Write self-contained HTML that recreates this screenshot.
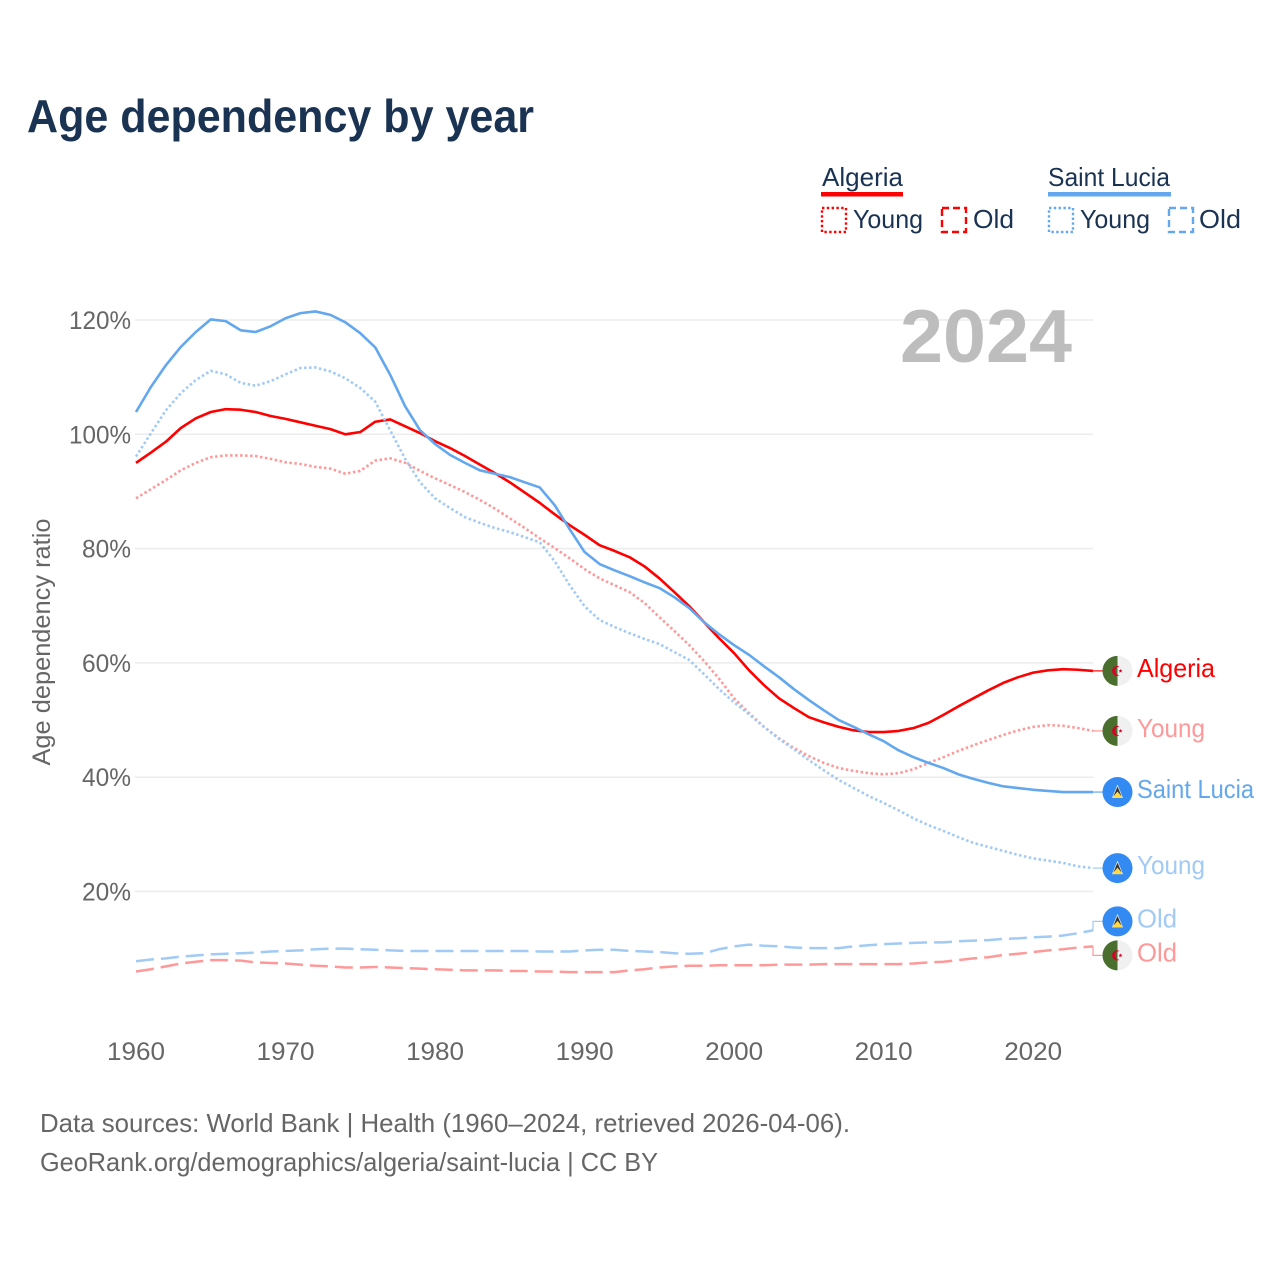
<!DOCTYPE html>
<html lang="en">
<head>
<meta charset="utf-8">
<title>Age dependency by year</title>
<style>
html,body{margin:0;padding:0;background:#fff;}
svg{display:block;font-family:"Liberation Sans",sans-serif;}
</style>
</head>
<body>
<svg id="chart" xmlns="http://www.w3.org/2000/svg" width="1280" height="1280" viewBox="0 0 1280 1280">
  <defs>
    <symbol id="flag-dz" viewBox="-15 -15 30 30" overflow="visible">
      <circle r="15" fill="#f0f0f0"/>
      <path d="M0,-15 A15,15 0 0 0 0,15 Z" fill="#496e2d"/>
      <path d="M2,-4.4 A5,5 0 1 0 2,4.4 A4,4 0 1 1 2,-4.4 Z" fill="#d80027"/>
      <polygon points="3,-2 3.6,-0.6 5,-0.6 3.9,0.4 4.3,1.9 3,1 1.7,1.9 2.1,0.4 1,-0.6 2.4,-0.6" fill="#d80027"/>
    </symbol>
    <symbol id="flag-lc" viewBox="-15 -15 30 30" overflow="visible">
      <circle r="15" fill="#338af3"/>
      <polygon points="0,-7.5 -5.5,6 5.5,6" fill="#f0f0f0"/>
      <polygon points="0,-5.5 -4,4 4,4" fill="#333"/>
      <polygon points="0,-0.5 -5.5,6 5.5,6" fill="#ffda44"/>
    </symbol>
  </defs>

  <text x="27" y="132" font-size="46" font-weight="700" fill="#1a3353" textLength="507" lengthAdjust="spacingAndGlyphs">Age dependency by year</text>

  <g>
    <text x="822" y="186" font-size="26" fill="#1a3353" textLength="81" lengthAdjust="spacingAndGlyphs">Algeria</text>
    <rect x="821" y="192" width="82" height="4.5" fill="#ff0000"/>
    <rect x="822" y="208" width="24" height="24" fill="none" stroke="#ff0000" stroke-width="2.4" stroke-dasharray="2.4 2.4"/>
    <text x="853" y="228" font-size="26" fill="#1a3353" textLength="70" lengthAdjust="spacingAndGlyphs">Young</text>
    <rect x="942" y="208" width="24" height="24" fill="none" stroke="#ff0000" stroke-width="2.4" stroke-dasharray="7 4"/>
    <text x="973" y="228" font-size="26" fill="#1a3353" textLength="41" lengthAdjust="spacingAndGlyphs">Old</text>

    <text x="1048" y="186" font-size="26" fill="#1a3353" textLength="122" lengthAdjust="spacingAndGlyphs">Saint Lucia</text>
    <rect x="1048" y="192" width="123" height="4.5" fill="#63a7ef"/>
    <rect x="1049" y="208" width="24" height="24" fill="none" stroke="#63a7ef" stroke-width="2.4" stroke-dasharray="2.4 2.4"/>
    <text x="1080" y="228" font-size="26" fill="#1a3353" textLength="70" lengthAdjust="spacingAndGlyphs">Young</text>
    <rect x="1169" y="208" width="24" height="24" fill="none" stroke="#63a7ef" stroke-width="2.4" stroke-dasharray="7 4"/>
    <text x="1199" y="228" font-size="26" fill="#1a3353" textLength="42" lengthAdjust="spacingAndGlyphs">Old</text>
  </g>

  <g id="grid"></g>
  <g id="yticks"></g>
  <g id="xticks"></g>

  <text transform="translate(50,642) rotate(-90)" text-anchor="middle" font-size="25" fill="#666" textLength="247" lengthAdjust="spacingAndGlyphs">Age dependency ratio</text>

  <text x="900" y="362" font-size="75" font-weight="700" fill="#bdbdbd" textLength="172" lengthAdjust="spacingAndGlyphs">2024</text>

  <g id="series"></g>
  <g id="endlabels"></g>

  <text x="40" y="1132" font-size="26" fill="#666" textLength="810" lengthAdjust="spacingAndGlyphs">Data sources: World Bank | Health (1960–2024, retrieved 2026-04-06).</text>
  <text x="40" y="1171" font-size="26" fill="#666" textLength="618" lengthAdjust="spacingAndGlyphs">GeoRank.org/demographics/algeria/saint-lucia | CC BY</text>
</svg>

<script>
const firstYear = 1960;
const lastYear = 2024;
const xTickValues = [1960, 1970, 1980, 1990, 2000, 2010, 2020];
const yTickValues = [20, 40, 60, 80, 100, 120];

const algeriaTotal = [
  95.0,96.8,98.7,101.1,102.8,103.9,104.4,104.3,103.9,103.2,
  102.7,102.1,101.5,100.9,100.0,100.4,102.2,102.6,101.4,100.2,
  98.8,97.6,96.2,94.7,93.2,91.6,89.8,88.0,86.0,84.1,
  82.4,80.6,79.6,78.5,76.9,74.8,72.4,69.9,67.1,64.3,
  61.7,58.7,56.1,53.8,52.1,50.5,49.6,48.8,48.2,47.9,
  47.9,48.1,48.6,49.5,50.9,52.4,53.8,55.2,56.5,57.5,
  58.3,58.7,58.9,58.8,58.6
];
const algeriaYoung = [
  88.8,90.4,92.0,93.7,95.0,96.0,96.3,96.3,96.2,95.7,
  95.1,94.8,94.3,94.0,93.1,93.6,95.4,95.8,95.0,93.6,
  92.3,91.1,89.9,88.5,87.0,85.3,83.6,81.8,80.1,78.3,
  76.4,74.8,73.6,72.4,70.5,68.0,65.6,63.1,60.3,57.2,
  53.8,51.2,48.8,46.8,45.1,43.7,42.5,41.6,41.1,40.7,
  40.5,40.7,41.4,42.5,43.5,44.6,45.6,46.5,47.4,48.2,
  48.8,49.1,49.0,48.6,48.1
];
const algeriaOld = [
  6.0,6.4,6.9,7.4,7.7,8.0,8.0,7.9,7.6,7.5,
  7.4,7.2,7.0,6.9,6.7,6.7,6.8,6.7,6.6,6.5,
  6.4,6.3,6.2,6.2,6.2,6.1,6.1,6.0,6.0,5.9,
  5.9,5.9,5.9,6.2,6.4,6.7,6.9,7.0,7.0,7.1,
  7.1,7.1,7.1,7.2,7.2,7.2,7.3,7.3,7.3,7.3,
  7.3,7.3,7.4,7.6,7.7,8.0,8.3,8.5,8.9,9.1,
  9.4,9.7,9.9,10.2,10.4
];
const luciaTotal = [
  103.9,108.3,112.1,115.3,117.9,120.1,119.8,118.2,117.9,118.9,
  120.3,121.2,121.5,120.9,119.6,117.7,115.2,110.4,104.9,100.7,
  98.3,96.4,95.0,93.7,93.1,92.5,91.6,90.7,87.6,83.4,
  79.4,77.3,76.2,75.2,74.1,73.1,71.5,69.6,67.1,65.0,
  63.1,61.4,59.4,57.5,55.4,53.5,51.7,50.0,48.8,47.5,
  46.3,44.7,43.5,42.5,41.6,40.5,39.7,39.0,38.4,38.1,
  37.8,37.6,37.4,37.4,37.4
];
const luciaYoung = [
  96.1,100.2,104.2,107.2,109.5,111.1,110.5,109.0,108.5,109.3,
  110.5,111.6,111.7,111.0,109.8,108.1,105.7,100.7,95.7,91.6,
  88.8,87.1,85.5,84.5,83.6,82.9,82.0,81.1,77.8,73.6,
  69.9,67.5,66.3,65.2,64.2,63.3,61.9,60.5,58.0,55.4,
  53.1,51.0,48.8,46.7,44.9,43.0,41.2,39.5,38.1,36.7,
  35.5,34.2,32.8,31.6,30.6,29.5,28.5,27.8,27.1,26.4,
  25.8,25.4,25.0,24.4,24.1
];
const luciaOld = [
  7.8,8.1,8.3,8.6,8.8,9.0,9.1,9.2,9.3,9.5,
  9.6,9.7,9.9,10.0,10.0,9.9,9.8,9.7,9.6,9.6,
  9.6,9.6,9.6,9.6,9.6,9.6,9.6,9.5,9.5,9.5,
  9.7,9.8,9.8,9.6,9.5,9.4,9.2,9.1,9.2,9.9,
  10.4,10.7,10.5,10.4,10.2,10.1,10.1,10.1,10.4,10.6,
  10.8,10.9,11.0,11.1,11.1,11.3,11.4,11.5,11.7,11.8,
  12.0,12.1,12.3,12.7,13.2
];

const NS = 'http://www.w3.org/2000/svg';
const plotLeft = 136;
const plotRight = 1093;
function xScale(year) {
  return plotLeft + (year - firstYear) * (plotRight - plotLeft) / (lastYear - firstYear);
}
function yScale(v) {
  return 891.5 - (v - 20) * 5.715;
}
function pathFor(values) {
  let d = '';
  for (let i = 0; i < values.length; i++) {
    d += (i ? 'L' : 'M') + xScale(firstYear + i).toFixed(2) + ',' + yScale(values[i]).toFixed(2);
  }
  return d;
}
function make(tag, attrs, parent) {
  const el = document.createElementNS(NS, tag);
  for (const k in attrs) el.setAttribute(k, attrs[k]);
  parent.appendChild(el);
  return el;
}

const gridG = document.getElementById('grid');
const yG = document.getElementById('yticks');
yTickValues.forEach(function (v) {
  const line = make('line', { x1: plotLeft - 1, x2: plotRight, y1: yScale(v), y2: yScale(v), stroke: '#ececec', 'stroke-width': 1.5 }, gridG);
  
  
  const t = make('text', { x: 131, y: yScale(v) + 9, 'text-anchor': 'end', 'font-size': 25, fill: '#666', textLength: v >= 100 ? 62 : 49, lengthAdjust: 'spacingAndGlyphs' }, yG);
  t.textContent = v + '%';
  
  
});

const xG = document.getElementById('xticks');
xTickValues.forEach(function (year) {
  const t = make('text', { x: xScale(year), y: 1060, 'text-anchor': 'middle', 'font-size': 25, fill: '#666', textLength: 58, lengthAdjust: 'spacingAndGlyphs' }, xG);
  t.textContent = String(year);
  
  
});

const seriesG = document.getElementById('series');
const labelG = document.getElementById('endlabels');

function drawSeries(key, label, values, color, dash, width, flag, shift, labelWidth) {
  const line = make('path', { d: pathFor(values), fill: 'none', stroke: color, 'stroke-width': width, 'stroke-linejoin': 'round' }, seriesG);
  if (dash) line.setAttribute('stroke-dasharray', dash);
  
  

  const endY = yScale(values[values.length - 1]);
  const iconY = endY + shift;
  const conn = make('path', { d: 'M' + plotRight + ',' + endY + 'V' + iconY + 'H1104', fill: 'none', stroke: color, 'stroke-width': 1.2 }, labelG);
  
  

  const icon = make('use', { href: '#' + flag, x: 1102.5, y: iconY - 15, width: 30, height: 30 }, labelG);
  
  

  const txt = make('text', { x: 1137, y: iconY + 6, 'font-size': 26, fill: color, textLength: labelWidth, lengthAdjust: 'spacingAndGlyphs' }, labelG);
  txt.textContent = label;
  
  
}

drawSeries('algeria-old', 'Old', algeriaOld, '#ff9999', '18 7', 2.5, 'flag-dz', 9, 40);
drawSeries('algeria-young', 'Young', algeriaYoung, '#ff9999', '2.5 2.5', 2.6, 'flag-dz', 0, 68);
drawSeries('algeria-total', 'Algeria', algeriaTotal, '#ff0000', '', 2.6, 'flag-dz', 0, 78);
drawSeries('saint-lucia-old', 'Old', luciaOld, '#a1caf5', '18 7', 2.5, 'flag-lc', -9, 40);
drawSeries('saint-lucia-young', 'Young', luciaYoung, '#a1caf5', '2.5 2.5', 2.6, 'flag-lc', 0, 68);
drawSeries('saint-lucia-total', 'Saint Lucia', luciaTotal, '#63a7ef', '', 2.6, 'flag-lc', 0, 117);
</script>
</body>
</html>
